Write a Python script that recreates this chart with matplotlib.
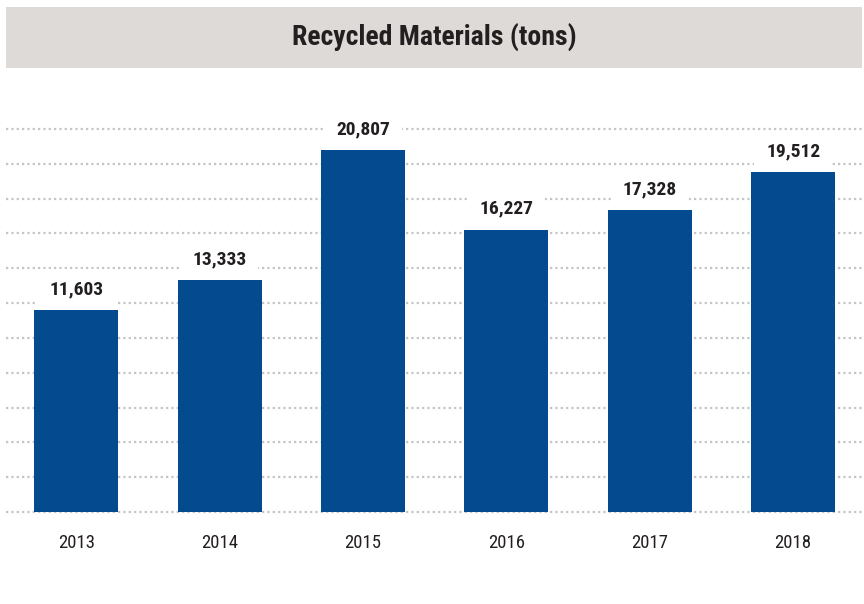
import matplotlib.pyplot as plt
from matplotlib import font_manager
from matplotlib.patches import Rectangle

# Data
years = ['2013', '2014', '2015', '2016', '2017', '2018']
tons = [11603, 13333, 20807, 16227, 17328, 19512]
grid_values = list(range(0, 22001, 2000))

bar_color = '#034a8f'
text_color = '#231f20'
grid_color = '#c4c4c4'
band_color = '#dedad7'

# pick a condensed face if one is around
installed = {f.name for f in font_manager.fontManager.ttflist}
wanted = ['Roboto Condensed', 'Liberation Sans Narrow', 'Archivo Narrow',
          'PT Sans Narrow', 'Arimo', 'Liberation Sans']
font = [n for n in wanted if n in installed][:1] + ['DejaVu Sans']

fig = plt.figure(figsize=(8.64, 6.04), dpi=100)
fig.patch.set_facecolor('white')

# Title band
W, H = 864, 604
fig.patches.append(Rectangle((6 / W, 1 - 68 / H), 856 / W, 61 / H,
                             transform=fig.transFigure, facecolor=band_color,
                             edgecolor='none', zorder=0))
fig.text(434 / W, 1 - 37 / H, 'Recycled Materials (tons)', ha='center', va='center',
         fontsize=20, fontweight='bold', color=text_color, family=font)

# Plot area
ax = fig.add_axes([6 / W, (H - 512) / H, 856 / W, (512 - 129) / H])
x = list(range(len(years)))
ax.bar(x, tons, width=0.586, color=bar_color, zorder=2)

# Dotted gridlines
for g in grid_values:
    ax.axhline(g, color=grid_color, linewidth=1.6, linestyle=(0, (1, 1.4)),
               dash_capstyle='butt', zorder=1, clip_on=False)

ax.set_xlim(-0.49, 5.48)
ax.set_ylim(0, 22000)
ax.axis('off')

# Value labels with white boxes hiding the grid
for xi, v in zip(x, tons):
    ax.annotate(f'{v:,}', (xi, v), xytext=(0, 15), textcoords='offset points',
                ha='center', va='center', fontsize=14, fontweight='bold',
                color=text_color, family=font, zorder=3,
                bbox=dict(boxstyle='square,pad=0.6', facecolor='white', edgecolor='none'))

# Year labels
for xi, yr in zip(x, years):
    ax.annotate(yr, (xi, 0), xytext=(0, -22.5), textcoords='offset points',
                ha='center', va='center', fontsize=13.5, color=text_color,
                family=font)

fig.savefig('out.png', dpi=100)
